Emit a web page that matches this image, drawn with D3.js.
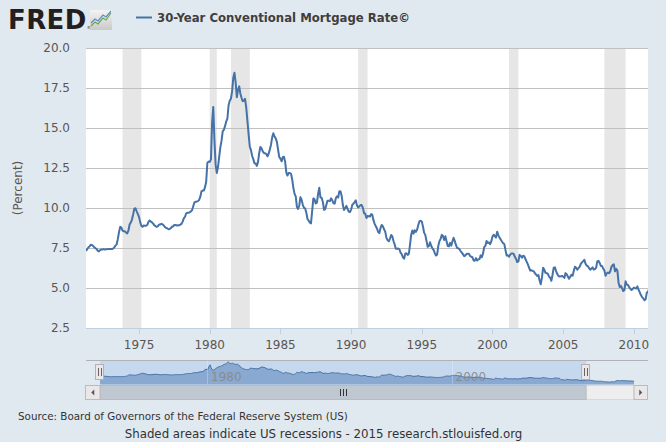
<!DOCTYPE html>
<html>
<head>
<meta charset="utf-8">
<script src="https://cdn.jsdelivr.net/npm/d3@7"></script>
<style>
  body { margin: 0; background: #e1e9f0; }
  svg { display: block; }
</style>
</head>
<body>
<script>
// monthly 30-year rates, first value is April 1971
const rates1970s = [
  7.31, 7.43, 7.53, 7.60, 7.70, 7.69, 7.63, 7.55, 7.48,
  7.44, 7.32, 7.29, 7.37, 7.41, 7.41, 7.43, 7.40, 7.42, 7.43, 7.43, 7.44,
  7.44, 7.44, 7.46, 7.54, 7.65, 7.73, 8.05, 8.50, 8.82, 8.77, 8.58, 8.54,
  8.54, 8.46, 8.41, 8.58, 8.97, 9.09, 9.28, 9.59, 9.96, 9.98, 9.79, 9.62,
  9.43, 9.10, 8.89, 8.82, 8.91, 8.89, 8.89, 8.94, 9.13, 9.22, 9.15, 9.10,
  9.02, 8.92, 8.86, 8.82, 8.86, 8.97, 8.97, 9.01, 8.97, 8.91, 8.80, 8.76,
  8.72, 8.67, 8.69, 8.75, 8.83, 8.86, 8.94, 8.94, 8.90, 8.92, 8.92, 8.96,
  9.01, 9.15, 9.35, 9.44, 9.66, 9.70, 9.70, 9.73, 9.79, 9.86, 10.11, 10.35,
  10.39, 10.41, 10.43, 10.50, 10.69, 11.04, 11.09, 11.09, 11.30, 11.64, 12.83, 12.90
]
const rates1980s = [
  12.88, 13.04, 15.28, 16.32, 14.26, 12.71, 12.19, 12.56, 13.20, 13.79, 14.21, 14.79,
  14.90, 15.13, 15.40, 15.58, 16.40, 16.70, 16.83, 17.29, 18.16, 18.45, 17.83, 16.92,
  17.40, 17.60, 17.16, 16.89, 16.68, 16.70, 16.82, 16.27, 15.43, 14.61, 13.83, 13.62,
  13.25, 13.04, 12.80, 12.78, 12.63, 12.87, 13.42, 13.81, 13.73, 13.54, 13.44, 13.42,
  13.37, 13.23, 13.39, 13.65, 13.94, 14.42, 14.67, 14.47, 14.35, 14.13, 13.64, 13.18,
  13.08, 12.92, 13.17, 13.20, 12.91, 12.22, 12.03, 12.19, 12.19, 12.14, 11.78, 11.26,
  10.88, 10.71, 10.08, 9.94, 10.14, 10.68, 10.51, 10.20, 10.01, 9.97, 9.70, 9.31,
  9.20, 9.08, 9.04, 9.83, 10.60, 10.54, 10.28, 10.33, 10.89, 11.26, 10.65, 10.64,
  10.38, 9.89, 9.93, 10.20, 10.46, 10.46, 10.43, 10.60, 10.48, 10.30, 10.27, 10.61,
  10.73, 10.65, 11.03, 11.05, 10.77, 10.20, 9.88, 9.99, 10.13, 9.95, 9.77, 9.74
]
const rates1990s = [
  9.90, 10.20, 10.27, 10.37, 10.48, 10.16, 10.04, 10.10, 10.18, 10.18, 10.01, 9.67,
  9.64, 9.37, 9.50, 9.49, 9.47, 9.62, 9.58, 9.24, 9.01, 8.86, 8.71, 8.50,
  8.43, 8.76, 8.94, 8.85, 8.67, 8.51, 8.13, 7.98, 7.92, 8.09, 8.31, 8.22,
  7.92, 7.71, 7.46, 7.46, 7.47, 7.42, 7.21, 7.11, 6.92, 6.83, 7.16, 7.17,
  7.06, 7.15, 7.68, 8.32, 8.60, 8.40, 8.61, 8.51, 8.64, 8.93, 9.17, 9.20,
  9.15, 8.83, 8.46, 8.32, 7.96, 7.57, 7.61, 7.86, 7.64, 7.48, 7.38, 7.20,
  7.03, 7.08, 7.62, 7.93, 8.07, 8.32, 8.25, 8.00, 8.23, 7.92, 7.62, 7.60,
  7.82, 7.65, 7.90, 8.14, 7.94, 7.69, 7.50, 7.48, 7.43, 7.29, 7.21, 7.10,
  6.99, 7.04, 7.13, 7.14, 7.14, 7.00, 6.95, 6.92, 6.72, 6.71, 6.87, 6.72,
  6.79, 6.81, 7.04, 6.92, 7.15, 7.55, 7.63, 7.94, 7.82, 7.85, 7.74, 7.91
]
const rates2000s = [
  8.21, 8.33, 8.24, 8.15, 8.52, 8.29, 8.15, 8.03, 7.91, 7.80, 7.75, 7.38,
  7.03, 7.05, 6.95, 7.08, 7.15, 7.16, 7.13, 6.95, 6.82, 6.62, 6.66, 7.07,
  7.00, 6.89, 7.01, 6.99, 6.81, 6.65, 6.49, 6.29, 6.09, 6.11, 6.07, 6.05,
  5.92, 5.84, 5.75, 5.81, 5.48, 5.23, 5.63, 6.26, 6.15, 5.95, 5.93, 5.88,
  5.71, 5.64, 5.45, 5.83, 6.27, 6.29, 6.06, 5.87, 5.75, 5.72, 5.73, 5.75,
  5.71, 5.63, 5.93, 5.86, 5.72, 5.58, 5.70, 5.82, 5.77, 6.07, 6.33, 6.27,
  6.15, 6.25, 6.32, 6.51, 6.60, 6.68, 6.76, 6.52, 6.40, 6.36, 6.24, 6.14,
  6.22, 6.29, 6.16, 6.18, 6.26, 6.66, 6.70, 6.57, 6.38, 6.38, 6.21, 6.10,
  5.76, 5.92, 5.97, 5.92, 6.04, 6.32, 6.43, 6.48, 6.04, 6.20, 6.09, 5.33,
  5.06, 5.13, 5.00, 4.81, 4.86, 5.42, 5.22, 5.19, 5.06, 4.95, 4.88, 4.93
]
const rates2010s = [
  5.03, 4.99, 4.97, 5.10, 4.89, 4.74, 4.56, 4.43, 4.35, 4.23, 4.30, 4.71,
  4.76, 4.95, 4.84, 4.84, 4.64, 4.51, 4.55, 4.27, 4.11, 4.07, 3.99, 3.96,
  3.92, 3.89, 3.95, 3.91, 3.80, 3.68, 3.55, 3.60, 3.50, 3.38, 3.35, 3.35,
  3.41, 3.53, 3.57, 3.45, 3.54, 4.07, 4.37, 4.46, 4.49, 4.19, 4.26, 4.46,
  4.43, 4.30, 4.34, 4.34, 4.19, 4.16, 4.13, 4.12, 4.16, 3.98, 4.00, 3.86
]

const recessionStarts = ['1973-11', '1980-01', '1981-07', '1990-07', '2001-03', '2007-12']
const recessionEnds   = ['1975-03', '1980-07', '1982-11', '1991-03', '2001-11', '2009-06']

const yTicks = [2.5, 5.0, 7.5, 10.0, 12.5, 15.0, 17.5, 20.0]
const xTickYears = [1975, 1980, 1985, 1990, 1995, 2000, 2005, 2010]
const navTickYears = [1980, 2000]
const viewRange = ['1971-04', '2011-01']

const rates = [].concat(rates1970s, rates1980s, rates1990s, rates2000s, rates2010s)
const data = rates.map((v, i) => ({ date: new Date(1971, 3 + i, 1), value: v }))
const parseMonth = d3.timeParse('%Y-%m')

const W = 666, H = 442
const plot = { left: 86, right: 648, top: 48, bottom: 328 }
const blue = '#4572a7'
const font = 'DejaVu Sans, Verdana, sans-serif'

const svg = d3.select('body').append('svg')
    .attr('width', W)
    .attr('height', H)
    .style('font-family', font)

svg.append('rect').attr('width', W).attr('height', H).attr('fill', '#e1e9f0')

// --- header: FRED logo + legend
const logo = svg.append('g')
const logoText = logo.append('text')
    .attr('x', 8).attr('y', 29)
    .attr('font-size', 26).attr('font-weight', 'bold')
    .attr('letter-spacing', 0.4)
    .attr('fill', '#231f20')
    .text('FRED')
logoText.append('tspan')
    .attr('font-size', 4).attr('font-weight', 'normal').attr('letter-spacing', 0)
    .text('®')
const grad = svg.append('defs').append('linearGradient')
    .attr('id', 'icon').attr('x1', 0).attr('y1', 0).attr('x2', 0).attr('y2', 1)
grad.append('stop').attr('offset', 0).attr('stop-color', '#f4f4f4')
grad.append('stop').attr('offset', 1).attr('stop-color', '#c9c9c9')
logo.append('rect')
    .attr('x', 90).attr('y', 10).attr('width', 22).attr('height', 20)
    .attr('fill', 'url(#icon)')
logo.append('path')
    .attr('d', 'M91,26 L95,22 L98,24 L103,18 L106,20 L111,13')
    .attr('fill', 'none').attr('stroke', '#6aa84f').attr('stroke-width', 1.2)
logo.append('path')
    .attr('d', 'M91,23 L95,19 L98,21 L103,15 L106,17 L111,11')
    .attr('fill', 'none').attr('stroke', '#5b8fc7').attr('stroke-width', 1.2)

svg.append('line')
    .attr('x1', 136).attr('x2', 152).attr('y1', 17.5).attr('y2', 17.5)
    .attr('stroke', blue).attr('stroke-width', 2)
svg.append('text')
    .attr('x', 157).attr('y', 21.8)
    .attr('font-size', 11.7).attr('font-weight', 'bold')
    .attr('fill', '#3e3e3e')
    .text('30-Year Conventional Mortgage Rate©')

// --- main chart
const x = d3.scaleTime()
    .domain(viewRange.map(parseMonth))
    .range([plot.left, plot.right])
const y = d3.scaleLinear()
    .domain([2.5, 20])
    .range([plot.bottom, plot.top])

svg.append('rect')
    .attr('x', plot.left).attr('y', plot.top)
    .attr('width', plot.right - plot.left).attr('height', plot.bottom - plot.top)
    .attr('fill', '#ffffff')

svg.append('clipPath').attr('id', 'clip')
  .append('rect')
    .attr('x', plot.left).attr('y', plot.top - 2)
    .attr('width', plot.right - plot.left).attr('height', plot.bottom - plot.top + 4)

const recessions = recessionStarts.map((s, i) => [parseMonth(s), parseMonth(recessionEnds[i])])
svg.append('g').selectAll('rect').data(recessions).enter()
  .append('rect')
    .attr('x', d => x(d[0]))
    .attr('width', d => x(d[1]) - x(d[0]))
    .attr('y', plot.top)
    .attr('height', plot.bottom - plot.top)
    .attr('fill', '#e6e6e6')

// grid + y labels
const yAxis = svg.append('g')
yAxis.selectAll('line').data(yTicks.filter(t => t > 2.5)).enter()
  .append('line')
    .attr('x1', plot.left).attr('x2', plot.right)
    .attr('y1', d => Math.round(y(d)) + 0.5).attr('y2', d => Math.round(y(d)) + 0.5)
    .attr('stroke', '#c0c0c0')
yAxis.selectAll('text').data(yTicks).enter()
  .append('text')
    .attr('x', 70).attr('y', d => y(d) + 4.3)
    .attr('text-anchor', 'end')
    .attr('font-size', 12).attr('fill', '#5a5550')
    .text(d => d.toFixed(1))

svg.append('text')
    .attr('transform', `translate(21.5, ${(plot.top + plot.bottom) / 2}) rotate(-90)`)
    .attr('text-anchor', 'middle')
    .attr('font-size', 12).attr('fill', '#5a5550')
    .text('(Percent)')

// x axis
const xAxis = svg.append('g')
xAxis.append('line')
    .attr('x1', plot.left).attr('x2', plot.right)
    .attr('y1', plot.bottom + 0.5).attr('y2', plot.bottom + 0.5)
    .attr('stroke', '#c0d0e0')
const xTicks = xTickYears.map(yr => new Date(yr, 0, 1))
xAxis.selectAll('.tick').data(xTicks).enter()
  .append('line')
    .attr('x1', d => Math.round(x(d)) + 0.5).attr('x2', d => Math.round(x(d)) + 0.5)
    .attr('y1', plot.bottom).attr('y2', plot.bottom + 6)
    .attr('stroke', '#c0d0e0')
xAxis.selectAll('text').data(xTicks).enter()
  .append('text')
    .attr('x', d => x(d)).attr('y', 348.5)
    .attr('text-anchor', 'middle')
    .attr('font-size', 12).attr('fill', '#5a5550')
    .text(d => d.getFullYear())

const line = d3.line()
    .x(d => x(d.date))
    .y(d => y(d.value))
svg.append('path')
    .datum(data)
    .attr('clip-path', 'url(#clip)')
    .attr('d', line)
    .attr('fill', 'none')
    .attr('stroke', blue)
    .attr('stroke-width', 2)
    .attr('stroke-linejoin', 'round')

// --- navigator
const nav = { left: 100, right: 634, top: 361, bottom: 384.5 }
const xNav = d3.scaleTime()
    .domain(d3.extent(data, d => d.date))
    .range([nav.left, nav.right])
const yNav = d3.scaleLinear()
    .domain(d3.extent(data, d => d.value))
    .range([382, 362])
const selLeft = xNav(x.domain()[0]), selRight = xNav(x.domain()[1])

svg.append('rect')
    .attr('x', selLeft).attr('y', nav.top)
    .attr('width', selRight - selLeft).attr('height', nav.bottom - nav.top)
    .attr('fill', '#c5d8ee')

svg.append('path')
    .datum(data)
    .attr('d', d3.area().x(d => xNav(d.date)).y0(nav.bottom).y1(d => yNav(d.value)))
    .attr('fill', '#8aa9d1')
svg.append('path')
    .datum(data)
    .attr('d', d3.line().x(d => xNav(d.date)).y(d => yNav(d.value)))
    .attr('fill', 'none').attr('stroke', blue).attr('stroke-width', 1)

const navTicks = navTickYears.map(yr => new Date(yr, 0, 1))
svg.append('g').selectAll('line').data(navTicks).enter()
  .append('line')
    .attr('x1', d => Math.round(xNav(d)) + 0.5).attr('x2', d => Math.round(xNav(d)) + 0.5)
    .attr('y1', nav.top).attr('y2', nav.bottom)
    .attr('stroke', '#ffffff').attr('stroke-opacity', 0.25)
svg.append('g').selectAll('text').data(navTicks).enter()
  .append('text')
    .attr('x', d => xNav(d) + 4).attr('y', 381)
    .attr('font-size', 12).attr('fill', '#888888').attr('fill-opacity', 0.9)
    .text(d => d.getFullYear())

svg.append('line')
    .attr('x1', plot.left).attr('x2', plot.right)
    .attr('y1', nav.top - 0.5).attr('y2', nav.top - 0.5)
    .attr('stroke', '#b2b1b6')

// scrollbar
const sb = { top: 385.5, bottom: 399.5 }
svg.append('rect')
    .attr('x', nav.left).attr('y', sb.top)
    .attr('width', nav.right - nav.left).attr('height', sb.bottom - sb.top)
    .attr('fill', '#eeeeee').attr('stroke', '#d8d8d8')
svg.append('rect')
    .attr('x', selLeft).attr('y', sb.top)
    .attr('width', selRight - selLeft).attr('height', sb.bottom - sb.top)
    .attr('fill', '#bfc8d1').attr('stroke', '#bbbbbb')
const thumbMid = Math.round((selLeft + selRight) / 2)
svg.append('g').selectAll('line').data([-3, 0, 3]).enter()
  .append('line')
    .attr('x1', d => thumbMid + d + 0.5).attr('x2', d => thumbMid + d + 0.5)
    .attr('y1', 389).attr('y2', 396)
    .attr('stroke', '#333333')

const buttons = [
  { x0: plot.left - 0.5, x1: nav.left, dir: -1 },
  { x0: nav.right, x1: plot.right - 0.5, dir: 1 }
]
const btn = svg.append('g').selectAll('g').data(buttons).enter().append('g')
btn.append('rect')
    .attr('x', d => d.x0).attr('y', sb.top)
    .attr('width', d => d.x1 - d.x0).attr('height', sb.bottom - sb.top)
    .attr('fill', '#ebe7e8').attr('stroke', '#bbbbbb')
btn.append('path')
    .attr('d', d => {
      const cx = (d.x0 + d.x1) / 2, cy = (sb.top + sb.bottom) / 2
      return d.dir < 0
        ? `M${cx + 1.5},${cy - 3} L${cx - 1.5},${cy} L${cx + 1.5},${cy + 3} Z`
        : `M${cx - 1.5},${cy - 3} L${cx + 1.5},${cy} L${cx - 1.5},${cy + 3} Z`
    })
    .attr('fill', '#555555')

// handles
const handle = svg.append('g').selectAll('g').data([selLeft, selRight]).enter().append('g')
    .attr('transform', d => `translate(${Math.round(d)}, 0)`)
handle.append('rect')
    .attr('x', -4.5).attr('y', 364.5).attr('width', 8).attr('height', 15)
    .attr('fill', '#ebe7e8').attr('stroke', '#b2b1b6')
handle.selectAll('line').data([-1.5, 1.5]).enter()
  .append('line')
    .attr('x1', d => d).attr('x2', d => d)
    .attr('y1', 368).attr('y2', 376)
    .attr('stroke', '#666666')

// --- footer
svg.append('text')
    .attr('x', 18).attr('y', 419.5)
    .attr('font-size', 10.35).attr('fill', '#333333')
    .text('Source: Board of Governors of the Federal Reserve System (US)')
svg.append('text')
    .attr('x', 323.5).attr('y', 438.3)
    .attr('text-anchor', 'middle')
    .attr('font-size', 11.8).attr('fill', '#333333')
    .text('Shaded areas indicate US recessions - 2015 research.stlouisfed.org')
</script>
</body>
</html>
